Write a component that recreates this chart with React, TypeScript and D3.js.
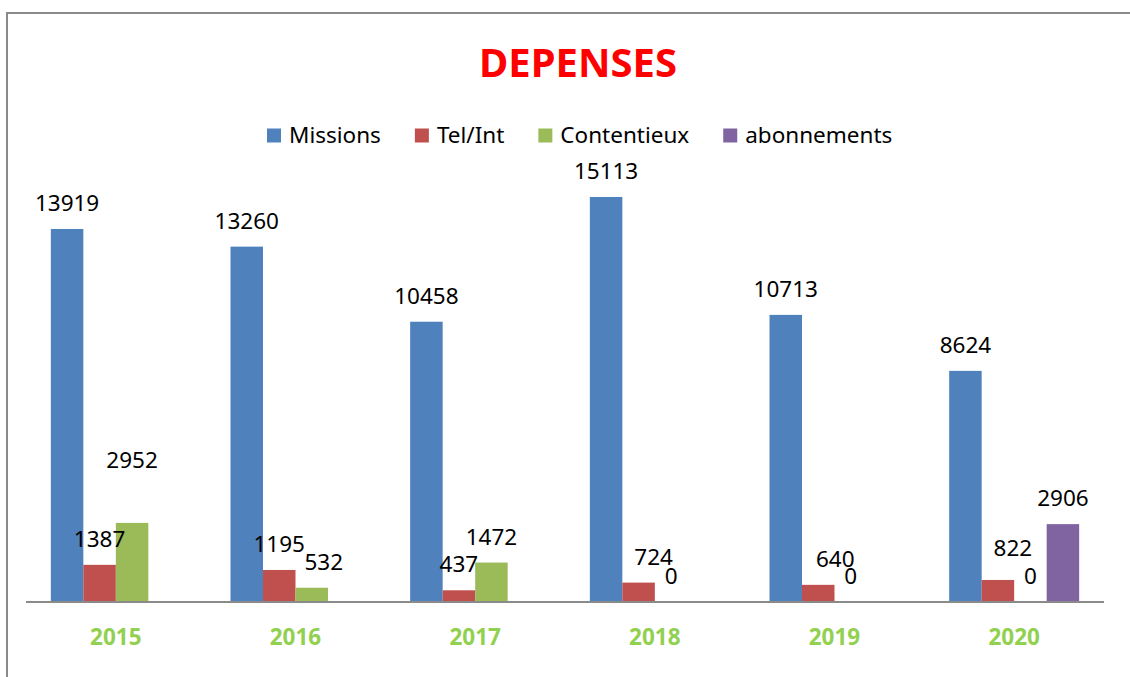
import React, { useEffect, useRef } from "react";
import * as d3 from "d3";

const years = ["2015", "2016", "2017", "2018", "2019", "2020"];
const seriesNames = ["Missions", "Tel/Int", "Contentieux", "abonnements"];
const missions = [13919, 13260, 10458, 15113, 10713, 8624];
const telInt = [1387, 1195, 437, 724, 640, 822];
const contentieux = [2952, 532, 1472, 0, 0, 0];
const abonnements: (number | null)[] = [null, null, null, null, null, 2906];
const title = "DEPENSES";

const colors = ["#4F81BD", "#C0504D", "#9BBB59", "#8064A2"];
// manual label nudges (px), as in the original
const labelNudge: Record<string, [number, number]> = {
  "2-0": [0, -37],
  "2-1": [12, 0],
  "1-3": [15, 0],
  "1-4": [17, 0],
  "1-5": [15, -6],
};

export default function App() {
  const ref = useRef<SVGSVGElement>(null);
  useEffect(() => {
    const svg = d3.select(ref.current);
    svg.selectAll("*").remove();
    const W = 1130, H = 677;
    const font = "'Noto Sans', sans-serif";
    const allSeries = [missions, telInt, contentieux, abonnements];

    // frame
    svg.append("rect").attr("x", 0).attr("y", 0).attr("width", W).attr("height", H).attr("fill", "#fff");
    svg.append("path").attr("d", `M7,${H} L7,13 L${W},13`).attr("fill", "none").attr("stroke", "#8a8a8a").attr("stroke-width", 2);

    // title
    svg.append("text").attr("x", 578).attr("y", 77).attr("text-anchor", "middle")
      .attr("font-family", font).attr("font-weight", "bold").attr("font-size", 40)
      .attr("fill", "#FF0000").text(title);

    const x0 = d3.scaleBand().domain(years).range([26, 1104]).paddingInner(0).paddingOuter(0);
    const step = x0.bandwidth();
    const barW = 32.5;
    const x1 = d3.scaleBand().domain(seriesNames).range([step / 2 - 2 * barW, step / 2 + 2 * barW]);
    const y = d3.scaleLinear().domain([0, 16000]).range([602, 173.2]);

    // bars
    allSeries.forEach((vals, si) => {
      const g = svg.append("g");
      vals.forEach((v, i) => {
        if (v === null) return;
        const bx = (x0(years[i]) as number) + (x1(seriesNames[si]) as number);
        g.append("rect").attr("x", bx).attr("y", y(v)).attr("width", x1.bandwidth())
          .attr("height", y(0) - y(v)).attr("fill", colors[si]);
      });
    });

    // axis line
    svg.append("line").attr("x1", 26).attr("x2", 1104).attr("y1", 602).attr("y2", 602)
      .attr("stroke", "#8a8a8a").attr("stroke-width", 2);

    // labels
    allSeries.forEach((vals, si) => {
      vals.forEach((v, i) => {
        if (v === null) return;
        const [dx, dy] = labelNudge[`${si}-${i}`] || [0, 0];
        const cx = (x0(years[i]) as number) + (x1(seriesNames[si]) as number) + x1.bandwidth() / 2;
        svg.append("text").attr("x", cx + dx).attr("y", y(v) - 18 + dy).attr("text-anchor", "middle")
          .attr("font-family", font).attr("font-size", 22.5).attr("fill", "#000").text(String(v));
      });
    });

    // year labels
    years.forEach((yr) => {
      svg.append("text").attr("x", (x0(yr) as number) + step / 2).attr("y", 645).attr("text-anchor", "middle")
        .attr("font-family", font).attr("font-weight", "bold").attr("font-size", 22.5)
        .attr("fill", "#92D050").text(yr);
    });

    // legend
    const lg = svg.append("g");
    let cx = 0;
    const gap = 34;
    seriesNames.forEach((name, si) => {
      lg.append("rect").attr("x", cx).attr("y", 128.5).attr("width", 14).attr("height", 14).attr("fill", colors[si]);
      const t = lg.append("text").attr("x", cx + 22).attr("y", 143).attr("font-family", font)
        .attr("font-size", 22.5).attr("fill", "#000").text(name);
      const w = (t.node() as SVGTextElement).getComputedTextLength();
      cx += 22 + w + gap;
    });
    const total = cx - gap;
    lg.attr("transform", `translate(${267},0)`);
    void total;
  }, []);
  return (
    <svg ref={ref} width={1130} height={677} style={{ display: "block", position: "absolute", left: 0, top: 0 }} />
  );
}
